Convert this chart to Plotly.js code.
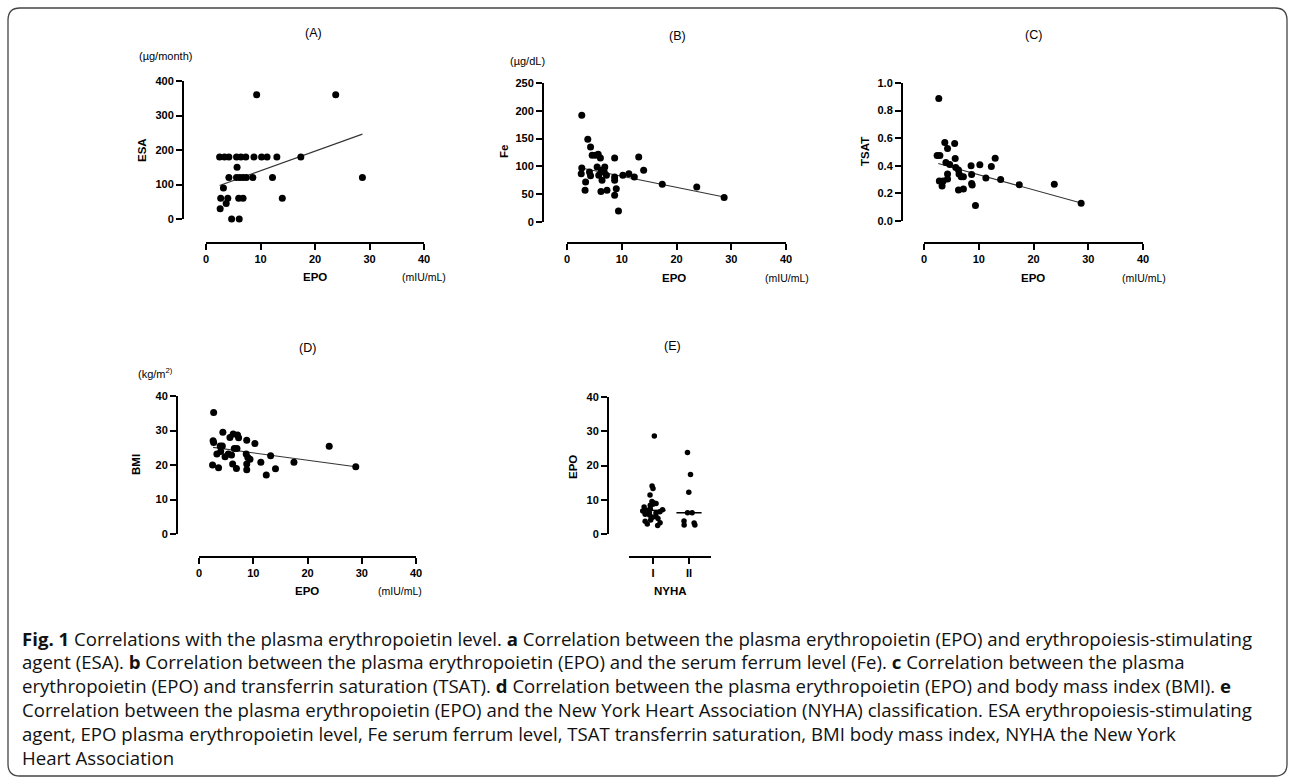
<!DOCTYPE html>
<html><head><meta charset="utf-8">
<script src="https://cdn.plot.ly/plotly-3.0.1.min.js"></script>
<style>html,body{margin:0;padding:0;background:#fff;}#chart{width:1290px;height:778px;}</style>
</head><body><div id="chart"></div>
<script>
// ---------- DATA ----------
// (A) EPO vs ESA
const esaEPO = [9.3, 23.8,
  2.5, 3.4, 4.2, 5.6, 6.4, 7.3, 8.8, 10.2, 11.2, 13.0, 17.4,
  5.7,
  4.2, 5.6, 6.2, 6.8, 7.4, 8.6, 12.2, 28.7,
  3.2,
  2.7, 4.0, 6.0, 6.8, 14.0,
  3.7, 2.6, 4.7, 6.1];
const esaVal = [360, 360,
  180, 180, 180, 180, 180, 180, 180, 180, 180, 180, 180,
  150,
  120, 120, 120, 120, 120, 120, 120, 120,
  90,
  60, 60, 60, 60, 60,
  45, 30, 0, 0];
const esaFitX = [2.5, 28.7];
const esaFitY = [97, 246];

// (B) EPO vs Fe
const feEPO = [2.7, 3.8, 4.3, 4.6, 5.2, 5.7, 6.1, 8.7, 13.1, 2.7, 2.6, 3.4, 3.3, 4.1, 4.3, 5.5, 5.8, 6.3, 6.4, 6.2,
  6.9, 7.2, 7.3, 6.8, 8.7, 8.7, 8.7, 9.0, 9.4, 10.2, 11.3, 12.3, 14.0, 17.4, 23.7, 28.7];
const feVal = [192, 149, 135, 120, 120, 122, 115, 115, 117, 97, 87, 72, 57, 90, 83, 99, 84, 93, 75, 55,
  99, 84, 57, 90, 81, 75, 48, 60, 20, 84, 87, 81, 93, 68, 63, 44];
const feFitX = [2.6, 28.7];
const feFitY = [97, 45];

// (C) EPO vs TSAT
const tsatEPO = [2.7, 2.4, 2.9, 3.8, 5.6, 4.3, 5.7, 4.0, 4.7, 2.8, 3.5, 3.3, 4.3, 4.3, 5.8, 6.3, 6.4, 6.8, 7.2, 6.3,
  7.2, 8.6, 8.7, 8.7, 8.8, 9.4, 10.2, 11.3, 12.3, 13.0, 14.0, 17.4, 23.8, 28.7];
const tsatVal = [0.887, 0.475, 0.475, 0.569, 0.561, 0.525, 0.453, 0.424, 0.41, 0.29, 0.29, 0.253, 0.34, 0.304, 0.388, 0.369, 0.34, 0.32, 0.32, 0.224,
  0.231, 0.40, 0.337, 0.272, 0.26, 0.113, 0.407, 0.311, 0.395, 0.455, 0.301, 0.263, 0.267, 0.128];
const tsatFitX = [2.6, 28.7];
const tsatFitY = [0.417, 0.13];

// (D) EPO vs BMI
const bmiEPO = [2.7, 4.4, 2.6, 2.7, 5.7, 6.3, 7.1, 7.3, 8.8, 10.3, 2.5, 3.6, 3.9, 4.3, 3.3, 4.0, 4.8, 5.4, 6.0, 6.5,
  7.0, 6.2, 6.9, 8.7, 9.0, 9.4, 8.8, 8.8, 11.4, 12.4, 13.2, 14.1, 17.5, 24.0, 28.9];
const bmiVal = [35.2, 29.5, 27.0, 26.5, 28.0, 29.0, 28.7, 27.9, 27.2, 26.2, 20.0, 19.2, 25.5, 25.5, 23.2, 23.9, 22.4, 23.2, 22.9, 24.8,
  24.8, 20.3, 19.0, 23.2, 22.2, 21.7, 20.3, 18.6, 20.8, 17.1, 22.7, 18.9, 20.8, 25.4, 19.5];
const bmiFitX = [2.6, 28.9];
const bmiFitY = [25.1, 19.5];

// (E) EPO by NYHA class
const nyhaLabels = ['I', 'II'];
const nyhaI = [28.6, 14.0, 13.3, 11.4, 9.5, 9.1, 8.9, 8.7, 8.4, 7.9, 7.4, 7.1, 6.9, 6.7, 6.5, 6.3, 6.1, 5.8, 5.5, 5.2, 4.9, 4.5, 4.1, 3.7, 3.3, 2.9, 2.5];
const nyhaII = [23.8, 17.4, 12.2, 6.2, 6.2, 3.8, 3.2, 2.6, 2.6];
const nyhaMedian = [6.9, 6.2];

const epoTicks = [0, 10, 20, 30, 40];

const captionLines = [
  '<b>Fig. 1</b> Correlations with the plasma erythropoietin level. <b>a</b> Correlation between the plasma erythropoietin (EPO) and erythropoiesis-stimulating',
  'agent (ESA). <b>b</b> Correlation between the plasma erythropoietin (EPO) and the serum ferrum level (Fe). <b>c</b> Correlation between the plasma',
  'erythropoietin (EPO) and transferrin saturation (TSAT). <b>d</b> Correlation between the plasma erythropoietin (EPO) and body mass index (BMI). <b>e</b>',
  'Correlation between the plasma erythropoietin (EPO) and the New York Heart Association (NYHA) classification. ESA erythropoiesis-stimulating',
  'agent, EPO plasma erythropoietin level, Fe serum ferrum level, TSAT transferrin saturation, BMI body mass index, NYHA the New York',
  'Heart Association'
];

// ---------- LAYOUT HELPERS ----------
const W = 1290, H = 778;
const fx = p => p / W;
const fy = p => 1 - p / H;
const FONT = 'Liberation Sans, Arial, sans-serif';

const panels = [
  {xd: [206, 424], yd: [81, 219], xl: 243, yl: 183, yr: [0, 400], dt: 100},
  {xd: [567, 786], yd: [83, 222], xl: 243, yl: 543, yr: [0, 250], dt: 50},
  {xd: [924, 1143], yd: [83, 221], xl: 243, yl: 902, yr: [0, 1], dt: 0.2, fmt: '.1f'},
  {xd: [199, 416], yd: [396, 534], xl: 557, yl: 177, yr: [0, 40], dt: 10},
  {xd: [629, 711], yd: [397, 534], xl: 557, yl: 608, yr: [0, 40], dt: 10, cat: true}
];

const layout = {
  width: W, height: H,
  margin: {l: 0, r: 0, t: 0, b: 0},
  paper_bgcolor: '#fff', plot_bgcolor: 'rgba(0,0,0,0)',
  showlegend: false,
  annotations: [], shapes: []
};

const tickFont = {family: 'Liberation Sans', size: 11, color: '#000', weight: 700};
panels.forEach((p, i) => {
  const n = i === 0 ? '' : String(i + 1);
  const xa = {
    domain: [fx(p.xd[0]), fx(p.xd[1])],
    anchor: 'free', position: fy(p.xl),
    showgrid: false, zeroline: false, showline: true, linecolor: '#000', linewidth: 2,
    ticks: 'outside', ticklen: 6, tickwidth: 2, tickcolor: '#000',
    tickfont: tickFont, fixedrange: true
  };
  if (p.cat) {
    xa.range = [1 - 24 / 36, 1 + 82 / 36 - 24 / 36];
    xa.tickvals = [1, 2];
    xa.ticktext = nyhaLabels;
  } else {
    xa.range = [0, 40];
    xa.tickvals = epoTicks;
  }
  const ya = {
    domain: [fy(p.yd[1]), fy(p.yd[0])],
    anchor: 'free', position: fx(p.yl),
    range: p.yr, dtick: p.dt, tick0: 0,
    showgrid: false, zeroline: false, showline: true, linecolor: '#000', linewidth: 2,
    ticks: 'outside', ticklen: 6, tickwidth: 2, tickcolor: '#000',
    tickfont: tickFont, fixedrange: true
  };
  if (p.fmt) ya.tickformat = p.fmt;
  layout['xaxis' + n] = xa;
  layout['yaxis' + n] = ya;
});

// ---------- TRACES ----------
const dot = {color: '#000', size: 7};
const fitLine = {color: '#333', width: 1.1};
function scatterPanel(x, y, fx_, fy_, ax) {
  return [
    {type: 'scatter', mode: 'lines', x: fx_, y: fy_, line: fitLine, xaxis: 'x' + ax, yaxis: 'y' + ax, hoverinfo: 'skip', cliponaxis: false},
    {type: 'scatter', mode: 'markers', x: x, y: y, marker: dot, xaxis: 'x' + ax, yaxis: 'y' + ax, cliponaxis: false}
  ];
}
const traces = [].concat(
  scatterPanel(esaEPO, esaVal, esaFitX, esaFitY, ''),
  scatterPanel(feEPO, feVal, feFitX, feFitY, '2'),
  scatterPanel(tsatEPO, tsatVal, tsatFitX, tsatFitY, '3'),
  scatterPanel(bmiEPO, bmiVal, bmiFitX, bmiFitY, '4')
);
[nyhaI, nyhaII].forEach((grp, k) => {
  traces.push({
    type: 'box', y: grp, x0: k + 1, name: nyhaLabels[k],
    boxpoints: 'all', jitter: 0.9, pointpos: 0, width: 0.7,
    marker: {color: '#000', size: 5.5},
    line: {color: 'rgba(0,0,0,0)', width: 0}, fillcolor: 'rgba(0,0,0,0)',
    xaxis: 'x5', yaxis: 'y5', hoverinfo: 'skip'
  });
  traces.push({
    type: 'scatter', mode: 'lines',
    x: [k + 1 - 0.35, k + 1 + 0.35], y: [nyhaMedian[k], nyhaMedian[k]],
    line: {color: '#000', width: 1.5}, xaxis: 'x5', yaxis: 'y5', hoverinfo: 'skip'
  });
});

// ---------- ANNOTATIONS ----------
function ann(text, x, y, opts) {
  layout.annotations.push(Object.assign({
    text: text, x: fx(x), y: fy(y), xref: 'paper', yref: 'paper',
    showarrow: false, xanchor: 'center', yanchor: 'middle',
    font: {family: FONT, size: 12, color: '#000'}
  }, opts || {}));
}
const regF = {family: FONT, size: 12.5, color: '#000'};
const unitF = {family: FONT, size: 11, color: '#000'};
const boldF = {family: FONT, size: 11.5, color: '#000', weight: 'bold'};
[['(A)', 313, 33], ['(B)', 677, 36], ['(C)', 1033, 35], ['(D)', 307, 348], ['(E)', 672, 346]]
  .forEach(a => ann(a[0], a[1], a[2], {font: regF}));
[['(µg/month)', 165, 56], ['(µg/dL)', 527, 61], ['(kg/m<sup>2)</sup>', 155, 373]]
  .forEach(a => ann(a[0], a[1], a[2], {font: unitF}));
[['ESA', 142, 150], ['Fe', 504, 152], ['TSAT', 865, 152], ['BMI', 136, 465], ['EPO', 573, 467]]
  .forEach(a => ann(a[0], a[1], a[2], {font: boldF, textangle: -90}));
[['EPO', 315, 277], ['EPO', 674, 278], ['EPO', 1033, 278], ['EPO', 307, 591], ['NYHA', 670, 591]]
  .forEach(a => ann(a[0], a[1], a[2], {font: boldF}));
[['(mIU/mL)', 424, 277], ['(mIU/mL)', 787, 278], ['(mIU/mL)', 1144, 278], ['(mIU/mL)', 400, 591]]
  .forEach(a => ann(a[0], a[1], a[2], {font: {family: FONT, size: 10.5, color: '#000'}}));

captionLines.forEach((t, i) => {
  ann(t, 20, 638 + i * 23.8, {xanchor: 'left', font: {family: 'Open Sans, sans-serif', size: 18.6, color: '#111'}});
});

// frame
(function () {
  const x0 = 8, y0 = 8, x1 = 1287, y1 = 776, r = 12;
  const P = (x, y) => fx(x) + ',' + fy(y);
  const path = 'M ' + P(x0 + r, y0) + ' L ' + P(x1 - r, y0) + ' Q ' + P(x1, y0) + ' ' + P(x1, y0 + r) +
    ' L ' + P(x1, y1 - r) + ' Q ' + P(x1, y1) + ' ' + P(x1 - r, y1) +
    ' L ' + P(x0 + r, y1) + ' Q ' + P(x0, y1) + ' ' + P(x0, y1 - r) +
    ' L ' + P(x0, y0 + r) + ' Q ' + P(x0, y0) + ' ' + P(x0 + r, y0) + ' Z';
  layout.shapes.push({type: 'path', xref: 'paper', yref: 'paper', path: path, line: {color: '#444', width: 1.3}, layer: 'below'});
})();

Plotly.newPlot('chart', traces, layout, {displayModeBar: false, staticPlot: true});
</script>
</body></html>
